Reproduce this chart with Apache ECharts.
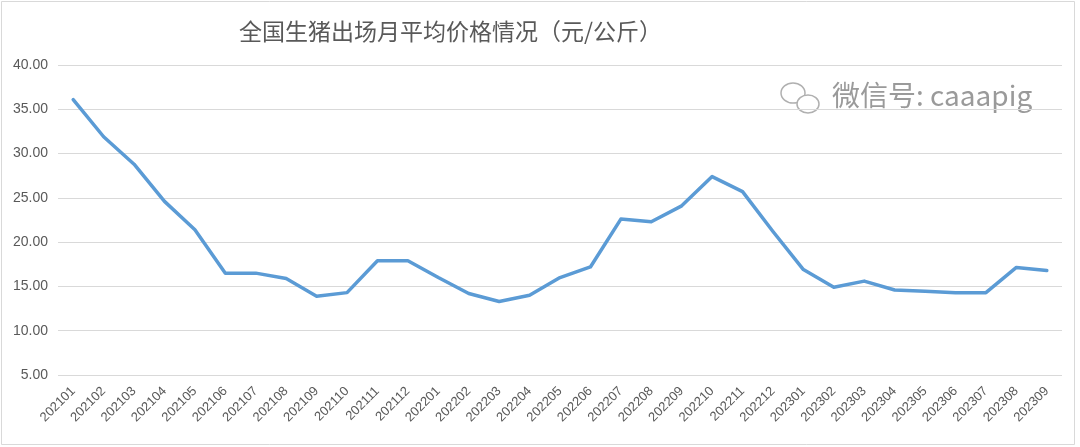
<!DOCTYPE html>
<html>
<head>
<meta charset="utf-8">
<script src="https://cdn.jsdelivr.net/npm/echarts@6/dist/echarts.min.js"></script>
<style>
  html, body { margin: 0; padding: 0; background: #fff; }
  #chart { width: 1080px; height: 447px; }
</style>
</head>
<body>
<div id="chart"></div>
<script>
var months = ['202101', '202102', '202103', '202104', '202105', '202106', '202107', '202108', '202109', '202110',
  '202111', '202112', '202201', '202202', '202203', '202204', '202205', '202206', '202207', '202208',
  '202209', '202210', '202211', '202212', '202301', '202302', '202303', '202304', '202305', '202306',
  '202307', '202308', '202309'];
var prices = [36.1, 31.9, 28.8, 24.6, 21.4, 16.5, 16.5, 15.9, 13.9, 14.3,
  17.9, 17.9, 16.0, 14.2, 13.3, 14.0, 16.0, 17.2, 22.6, 22.3,
  24.1, 27.4, 25.7, 21.2, 16.9, 14.9, 15.6, 14.6, 14.45, 14.3,
  14.3, 17.15, 16.8];
var titleText = '全国生猪出场月平均价格情况（元/公斤）';
var markText = '微信号: caaapig';

var dom = document.getElementById('chart');
var myChart = echarts.init(dom, null, { renderer: 'canvas' });

var option = {
  backgroundColor: '#fff',
  animation: false,
  title: {
    text: titleText,
    left: 234,
    top: 15,
    textStyle: {
      fontFamily: 'Noto Sans CJK SC',
      fontSize: 23,
      fontWeight: 'normal',
      color: '#595959'
    }
  },
  graphic: [
    {
      type: 'rect',
      shape: { x: 1.5, y: 1.5, width: 1073, height: 443 },
      style: { fill: 'none', stroke: '#d9d9d9', lineWidth: 1 }
    },
    {
      type: 'text',
      left: 832,
      top: 81,
      style: {
        text: markText,
        fontFamily: 'Noto Sans CJK SC',
        fontSize: 28,
        fill: '#9a9a9a'
      }
    },
    {
      type: 'ellipse',
      shape: { cx: 793, cy: 93, rx: 12, ry: 10 },
      style: { fill: 'none', stroke: '#b0b0b0', lineWidth: 1.5 }
    },
    {
      type: 'ellipse',
      shape: { cx: 808, cy: 104, rx: 11, ry: 9 },
      style: { fill: '#fff', stroke: '#b0b0b0', lineWidth: 1.5 }
    }
  ],
  grid: {
    left: 58,
    right: 18,
    top: 65,
    bottom: 72
  },
  xAxis: {
    type: 'category',
    data: months,
    boundaryGap: true,
    axisLine: { show: false },
    axisTick: { show: false },
    axisLabel: {
      rotate: 45,
      interval: 0,
      margin: 14,
      fontFamily: 'Liberation Sans',
      fontSize: 13,
      color: '#595959'
    }
  },
  yAxis: {
    type: 'value',
    min: 5,
    max: 40,
    interval: 5,
    axisLine: { show: false },
    axisTick: { show: false },
    axisLabel: {
      margin: 10,
      fontFamily: 'Liberation Sans',
      fontSize: 14,
      color: '#595959',
      formatter: function (val) {
        return val.toFixed(2);
      }
    },
    splitLine: { lineStyle: { color: '#d9d9d9', width: 1 } }
  },
  series: [
    {
      name: titleText,
      type: 'line',
      data: prices,
      showSymbol: false,
      symbol: 'none',
      lineStyle: { color: '#5b9bd5', width: 3.5, cap: 'round', join: 'round' },
      itemStyle: { color: '#5b9bd5' }
    }
  ]
};

myChart.setOption(option);
window.addEventListener('resize', myChart.resize);
</script>
</body>
</html>
